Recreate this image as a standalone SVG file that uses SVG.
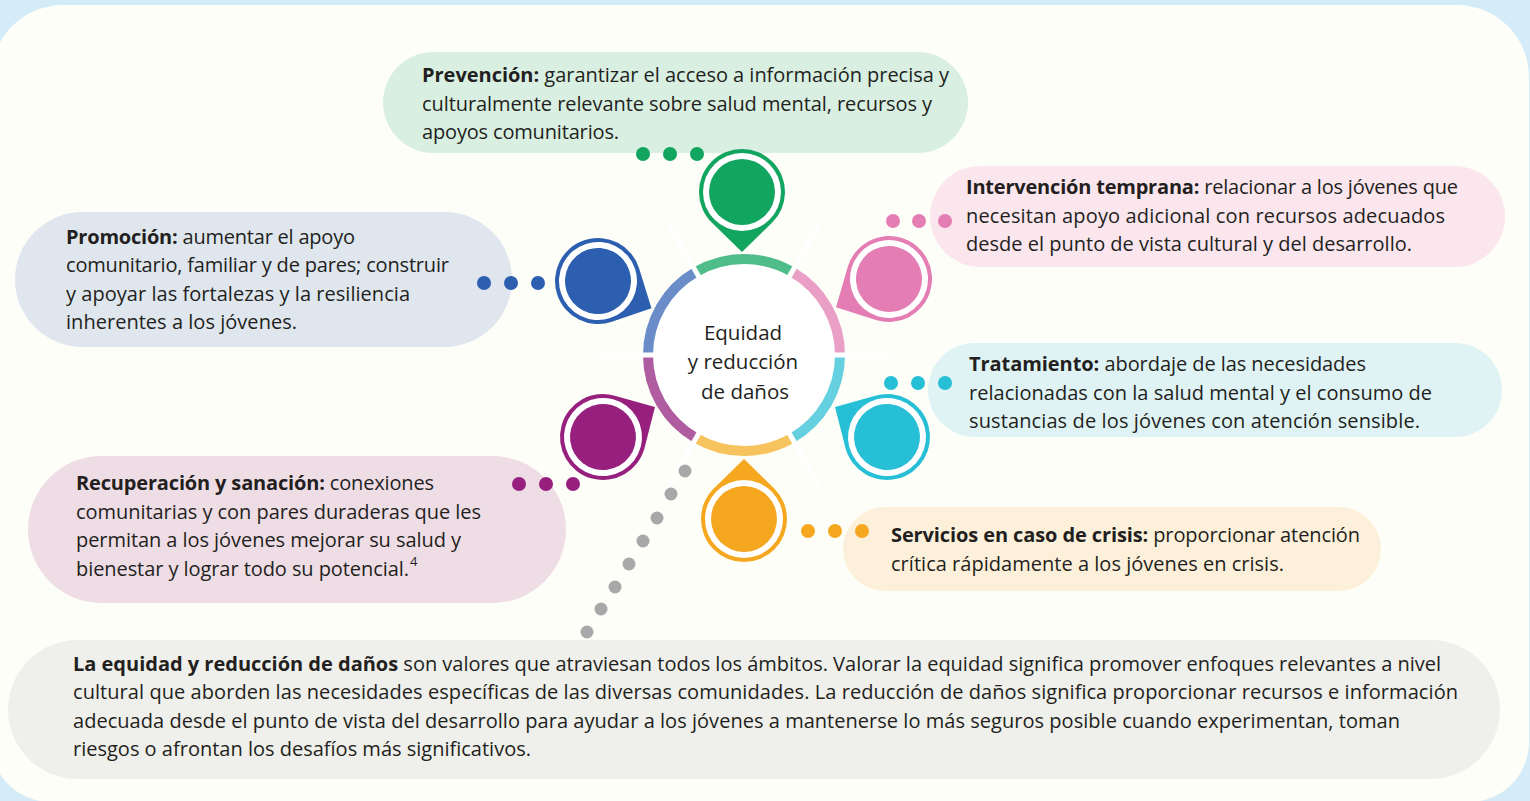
<svg xmlns="http://www.w3.org/2000/svg" width="1530" height="801" viewBox="0 0 1530 801">
<style>
.t { font-family: "Open Sans", "Liberation Sans", sans-serif; font-size: 20px; fill: #231f20; }
.b { font-weight: 700; }
.c { font-family: "Open Sans", "Liberation Sans", sans-serif; font-size: 20.5px; fill: #231f20; text-anchor: middle; }
.arc { fill: none; stroke-width: 10; }
.spoke { stroke: #ffffff; stroke-width: 5; }
</style>
<defs>
<path id="pin" d="M 29.97 30.82 L 0 60 L -29.97 30.82 A 43 43 0 1 1 29.97 30.82 Z"/>
</defs>
<rect x="0" y="0" width="1530" height="801" fill="#d4ecf7"/>
<path d="M 63 5 H 1457 A 72 72 0 0 1 1529 77 V 742 A 60 60 0 0 1 1469 802 H 51 A 60 60 0 0 1 -9 742 V 77 A 72 72 0 0 1 63 5 Z" fill="#fdfef8"/>

<g id="box-prevencion">
<rect x="383" y="52" width="585" height="101" rx="50.5" fill="#d9efe2"/>
<text class="t" x="422" y="82" textLength="527"><tspan class="b">Prevención:</tspan> garantizar el acceso a información precisa y</text>
<text class="t" x="422" y="111" textLength="510">culturalmente relevante sobre salud mental, recursos y</text>
<text class="t" x="422" y="139" textLength="197">apoyos comunitarios.</text>
</g>
<g id="box-intervencion">
<rect x="930" y="166" width="575" height="101" rx="50.5" fill="#fbe6ee"/>
<text class="t" x="966" y="194" textLength="492"><tspan class="b">Intervención temprana:</tspan> relacionar a los jóvenes que</text>
<text class="t" x="966" y="223" textLength="479">necesitan apoyo adicional con recursos adecuados</text>
<text class="t" x="966" y="251" textLength="446">desde el punto de vista cultural y del desarrollo.</text>
</g>
<g id="box-promocion">
<rect x="15" y="212" width="497" height="135" rx="67.5" fill="#dfe6ee"/>
<text class="t" x="66" y="244" textLength="289"><tspan class="b">Promoción:</tspan> aumentar el apoyo</text>
<text class="t" x="66" y="272" textLength="383">comunitario, familiar y de pares; construir</text>
<text class="t" x="66" y="301" textLength="344">y apoyar las fortalezas y la resiliencia</text>
<text class="t" x="66" y="329" textLength="231">inherentes a los jóvenes.</text>
</g>
<g id="box-tratamiento">
<rect x="928" y="343" width="574" height="94" rx="47" fill="#dff3f4"/>
<text class="t" x="969" y="371" textLength="397"><tspan class="b">Tratamiento:</tspan> abordaje de las necesidades</text>
<text class="t" x="969" y="400" textLength="463">relacionadas con la salud mental y el consumo de</text>
<text class="t" x="969" y="428" textLength="451">sustancias de los jóvenes con atención sensible.</text>
</g>
<g id="box-recuperacion">
<rect x="28" y="456" width="538" height="147" rx="73.5" fill="#efdde6"/>
<text class="t" x="76" y="490" textLength="358"><tspan class="b">Recuperación y sanación:</tspan> conexiones</text>
<text class="t" x="76" y="519" textLength="405">comunitarias y con pares duraderas que les</text>
<text class="t" x="76" y="547" textLength="385">permitan a los jóvenes mejorar su salud y</text>
<text class="t" x="76" y="576" textLength="333">bienestar y lograr todo su potencial.</text>
<text class="t" x="410" y="566" style="font-size:13px">4</text>
</g>
<g id="box-servicios">
<rect x="843" y="507" width="538" height="84" rx="42" fill="#fdf0da"/>
<text class="t" x="891" y="542" textLength="469"><tspan class="b">Servicios en caso de crisis:</tspan> proporcionar atención</text>
<text class="t" x="891" y="571" textLength="393">crítica rápidamente a los jóvenes en crisis.</text>
</g>
<g id="box-equidad">
<rect x="8" y="640" width="1492" height="139" rx="69.5" fill="#efefeb"/>
<text class="t" x="73" y="671" textLength="1368"><tspan class="b">La equidad y reducción de daños</tspan> son valores que atraviesan todos los ámbitos. Valorar la equidad significa promover enfoques relevantes a nivel</text>
<text class="t" x="73" y="699" textLength="1385">cultural que aborden las necesidades específicas de las diversas comunidades. La reducción de daños significa proporcionar recursos e información</text>
<text class="t" x="73" y="728" textLength="1327">adecuada desde el punto de vista del desarrollo para ayudar a los jóvenes a mantenerse lo más seguros posible cuando experimentan, toman</text>
<text class="t" x="73" y="756" textLength="458">riesgos o afrontan los desafíos más significativos.</text>
</g>

<g id="hub">
<circle cx="744" cy="355" r="91" fill="#ffffff"/>
<path class="arc" stroke="#4fbd8a" d="M 696 271.86 A 96 96 0 0 1 792 271.86"/>
<path class="arc" stroke="#eaa0c6" d="M 792 271.86 A 96 96 0 0 1 840 355"/>
<path class="arc" stroke="#64d0e0" d="M 840 355 A 96 96 0 0 1 792 438.14"/>
<path class="arc" stroke="#f7c35f" d="M 792 438.14 A 96 96 0 0 1 696 438.14"/>
<path class="arc" stroke="#b05ca0" d="M 696 438.14 A 96 96 0 0 1 648 355"/>
<path class="arc" stroke="#6a8cc8" d="M 648 355 A 96 96 0 0 1 696 271.86"/>
<line class="spoke" x1="787" y1="280.5" x2="819" y2="225.1"/>
<line class="spoke" x1="701" y1="280.5" x2="669" y2="225.1"/>
<line class="spoke" x1="830" y1="355" x2="894" y2="355"/>
<line class="spoke" x1="787" y1="429.5" x2="819" y2="484.9"/>
<line class="spoke" x1="701" y1="429.5" x2="669" y2="484.9"/>
<line class="spoke" x1="658" y1="355" x2="594" y2="355"/>
<text class="c" x="743" y="340">Equidad</text>
<text class="c" x="743" y="369">y reducción</text>
<text class="c" x="745" y="399">de daños</text>
</g>

<g id="connectors">
<g fill="#12a55f"><circle cx="643" cy="154" r="7"/><circle cx="670" cy="154" r="7"/><circle cx="697" cy="154" r="7"/></g>
<g fill="#e47db3"><circle cx="893" cy="221" r="7"/><circle cx="919" cy="221" r="7"/><circle cx="945" cy="221" r="7"/></g>
<g fill="#2d5fb0"><circle cx="484" cy="283" r="7"/><circle cx="511" cy="283" r="7"/><circle cx="538" cy="283" r="7"/></g>
<g fill="#27bfd6"><circle cx="891" cy="383" r="7"/><circle cx="918" cy="383" r="7"/><circle cx="945" cy="383" r="7"/></g>
<g fill="#97207e"><circle cx="519" cy="484" r="7"/><circle cx="546" cy="484" r="7"/><circle cx="573" cy="484" r="7"/></g>
<g fill="#f5a81f"><circle cx="808" cy="531" r="7"/><circle cx="835" cy="531" r="7"/><circle cx="862" cy="531" r="7"/></g>
<g fill="#a8a8a8"><circle cx="685" cy="471" r="6.5"/><circle cx="671" cy="494" r="6.5"/><circle cx="657" cy="518" r="6.5"/><circle cx="643" cy="541" r="6.5"/><circle cx="629" cy="564" r="6.5"/><circle cx="615" cy="587" r="6.5"/><circle cx="601" cy="609" r="6.5"/><circle cx="587" cy="632" r="6.5"/></g>
</g>

<g id="pin-prevencion" transform="translate(742,192) rotate(0)"><use href="#pin" fill="#12a55f"/><circle r="39" fill="#ffffff"/><circle r="33" fill="#12a55f"/></g>
<g id="pin-intervencion" transform="translate(889,279) rotate(62)"><use href="#pin" fill="#e47db3"/><circle r="39" fill="#ffffff"/><circle r="33" fill="#e47db3"/></g>
<g id="pin-tratamiento" transform="translate(887,437) rotate(120)"><use href="#pin" fill="#27bfd6"/><circle r="39" fill="#ffffff"/><circle r="33" fill="#27bfd6"/></g>
<g id="pin-servicios" transform="translate(744,519) rotate(180)"><use href="#pin" fill="#f5a81f"/><circle r="39" fill="#ffffff"/><circle r="33" fill="#f5a81f"/></g>
<g id="pin-recuperacion" transform="translate(603,437) rotate(240)"><use href="#pin" fill="#97207e"/><circle r="39" fill="#ffffff"/><circle r="33" fill="#97207e"/></g>
<g id="pin-promocion" transform="translate(598,281) rotate(297)"><use href="#pin" fill="#2d5fb0"/><circle r="39" fill="#ffffff"/><circle r="33" fill="#2d5fb0"/></g>
</svg>
